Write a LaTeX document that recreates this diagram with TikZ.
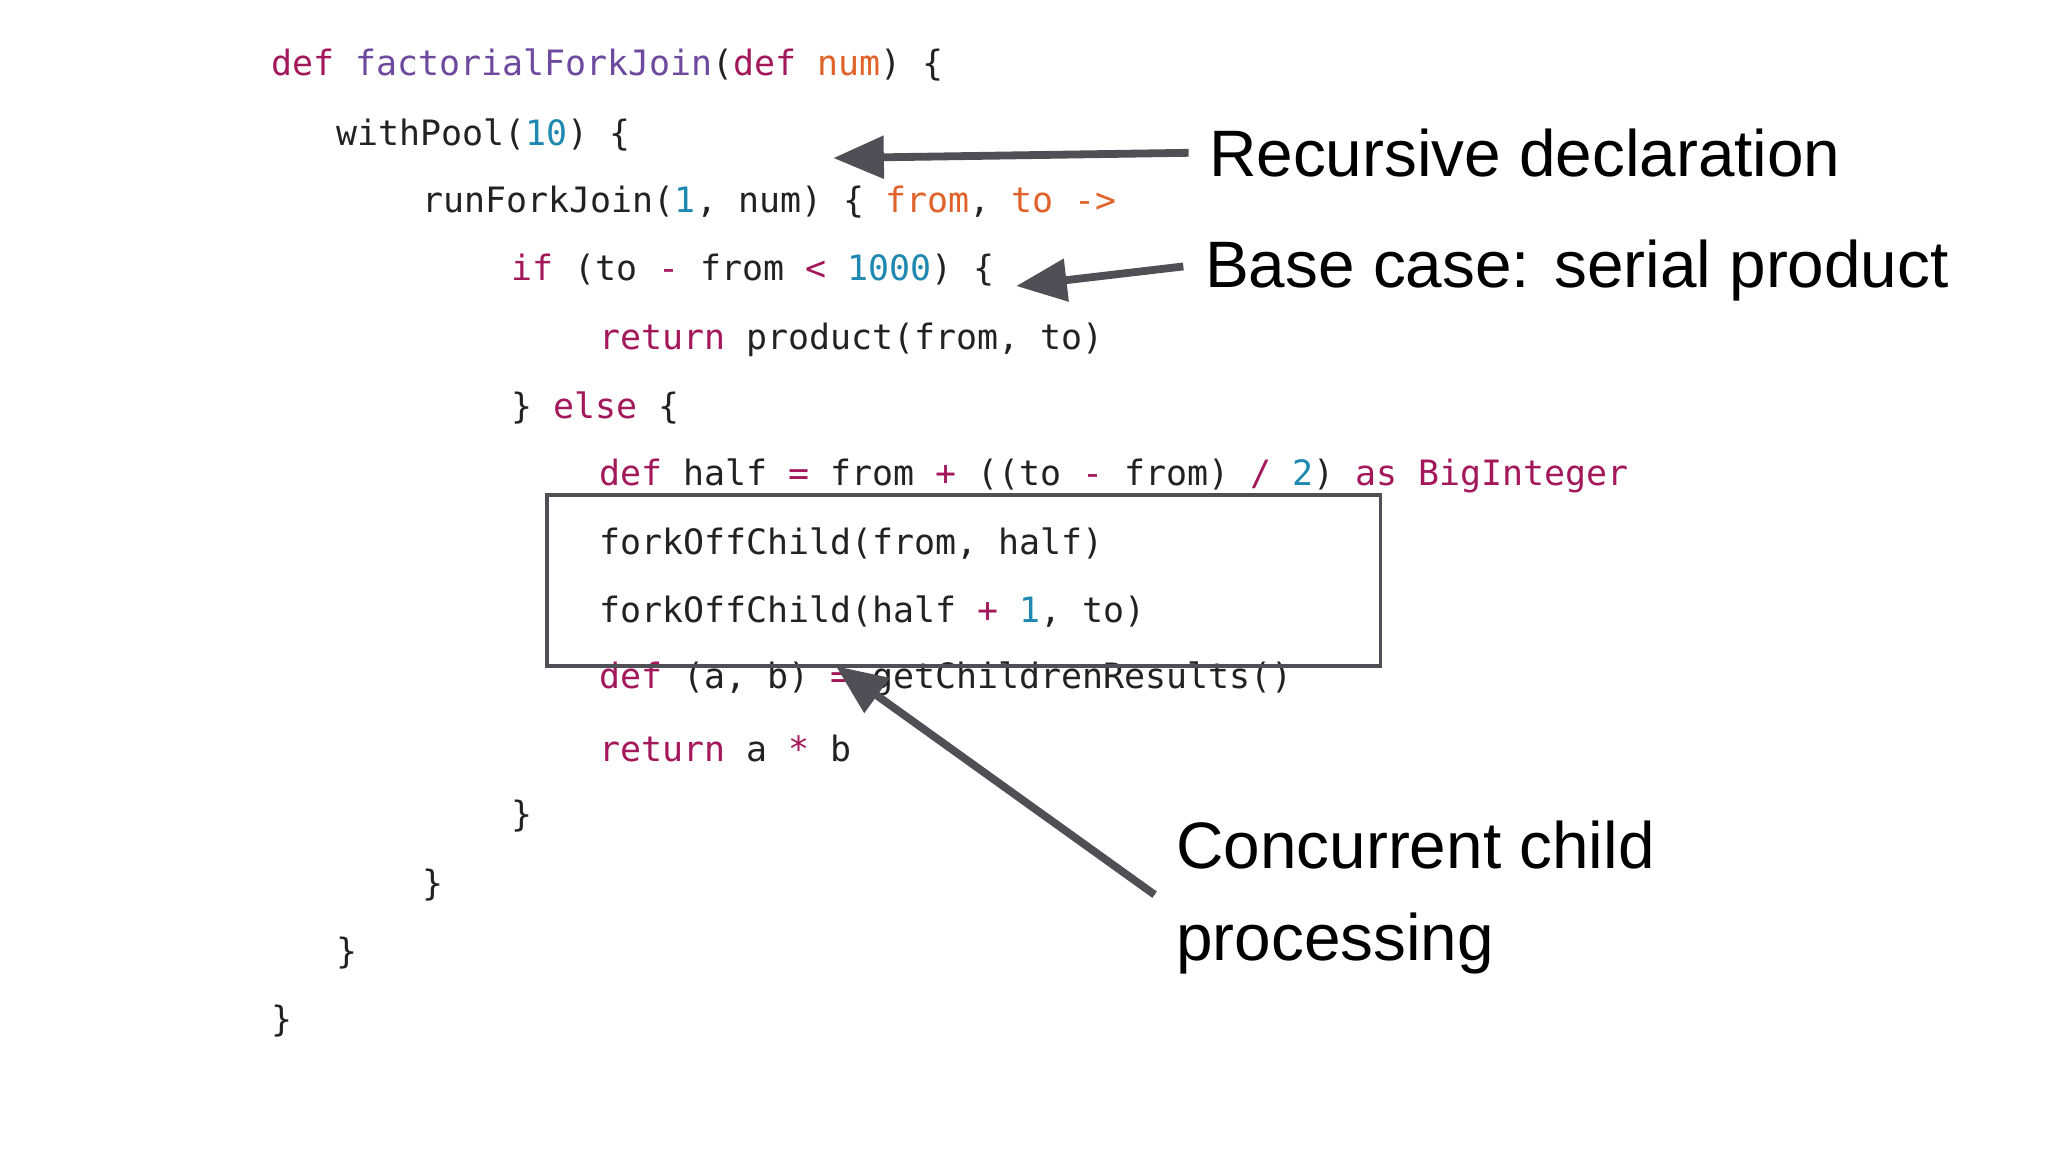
\documentclass[tikz,border=0pt]{standalone}
\usepackage{fontspec}
\setmainfont{Liberation Sans}
\setmonofont{DejaVu Sans Mono}
\usetikzlibrary{arrows.meta}
\definecolor{kw}{HTML}{A3185A}
\definecolor{fn}{HTML}{6E4A9E}
\definecolor{vr}{HTML}{E0622A}
\definecolor{nm}{HTML}{1E88B0}
\definecolor{tx}{HTML}{222222}
\definecolor{ar}{HTML}{4F4F55}
\newcommand{\K}[1]{\textcolor{kw}{#1}}
\newcommand{\F}[1]{\textcolor{fn}{#1}}
\newcommand{\V}[1]{\textcolor{vr}{#1}}
\newcommand{\N}[1]{\textcolor{nm}{#1}}
\begin{document}
\begin{tikzpicture}[x=0.01cm,y=-0.01cm,
 code/.style={anchor=west,inner sep=0pt,font=\ttfamily\fontsize{7.6}{9}\selectfont,text=tx},
 lab/.style={anchor=west,inner sep=0pt,font=\fontsize{14.3}{20}\selectfont,text=black,align=left},
 arr/.style={draw=ar,line width=1.7pt,-{Triangle[length=11pt,width=9pt]}}]
\useasboundingbox (0,0) rectangle (1568,882);
\node[code] (l1) at (207,50) {\K{def} \F{factorialForkJoin}(\K{def} \V{num}) \{};
\node[code] (l2) at (257,103) {withPool(\N{10}) \{};
\node[code] (l3) at (323,155) {runForkJoin(\N{1}, num) \{ \V{from}, \V{to} \V{->}};
\node[code] (l4) at (391,207) {\K{if} (to \K{-} from \K{<} \N{1000}) \{};
\node[code] (l5) at (458,260) {\K{return} product(from, to)};
\node[code] (l6) at (391,312) {\} \K{else} \{};
\node[code] (l7) at (458,364) {\K{def} half \K{=} from \K{+} ((to \K{-} from) \K{/} \N{2}) \K{as} \K{BigInteger}};
\node[code] (l8) at (458,416) {forkOffChild(from, half)};
\node[code] (l9) at (458,468) {forkOffChild(half \K{+} \N{1}, to)};
\node[code] (l10) at (458,520) {\K{def} (a, b) \K{=} getChildrenResults()};
\node[code] (l11) at (458,573) {\K{return} a \K{*} b};
\node[code] (l12) at (391,625) {\}};
\node[code] (l13) at (323,678) {\}};
\node[code] (l14) at (257,730) {\}};
\node[code] (l15) at (207,782) {\}};
\draw[draw=ar,line width=0.8pt] (419,379) rectangle (1057,510);
\node[lab] (r1) at (925,117) {Recursive declaration};
\node[lab] (r2) at (922,207) {Base case: serial product};
\node[lab] (r3) at (900,687) {Concurrent child\\processing};
\coordinate (e1) at (638,121);
\coordinate (e2) at (778,219);
\coordinate (e3) at (640,510);
\coordinate (s3) at (884,685);
\draw[arr] ([xshift=-15*0.01cm]r1.west) -- (e1);
\draw[arr] ([xshift=-16*0.01cm,yshift=3*0.01cm]r2.west) -- (e2);
\draw[arr] (s3) -- (e3);
\end{tikzpicture}
\end{document}
